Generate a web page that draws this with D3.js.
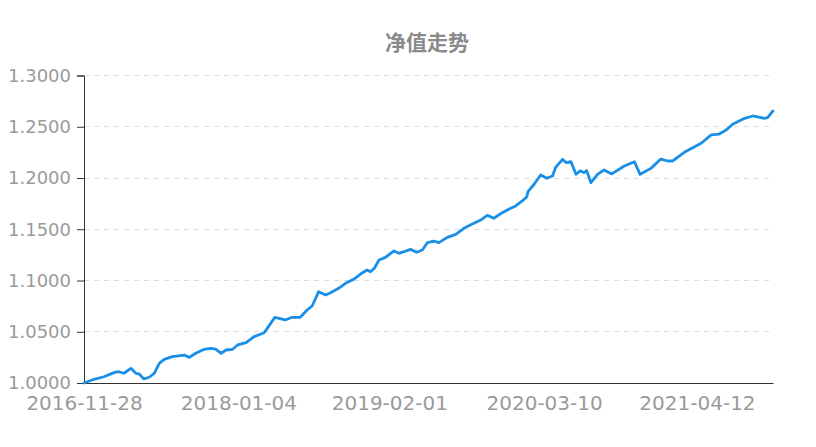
<!DOCTYPE html>
<html><head><meta charset="utf-8">
<script src="https://cdn.jsdelivr.net/npm/d3@7"></script>
<style>body{margin:0;background:#fff}</style>
</head><body>
<svg id="c" width="816" height="447"></svg>
<script>
const title = "净值走势";
const dates = ["2016-11-28","2016-12-24","2017-01-19","2017-02-14","2017-02-27","2017-03-12","2017-03-30","2017-04-12","2017-04-20","2017-05-03","2017-05-17","2017-05-30","2017-06-12","2017-06-25","2017-07-16","2017-08-16","2017-08-29","2017-09-15","2017-10-07","2017-10-24","2017-11-06","2017-11-20","2017-12-03","2017-12-20","2018-01-02","2018-01-24","2018-02-14","2018-03-12","2018-03-25","2018-04-09","2018-05-06","2018-05-24","2018-06-14","2018-07-02","2018-07-15","2018-08-01","2018-08-19","2018-09-01","2018-09-22","2018-10-10","2018-10-31","2018-11-18","2018-12-05","2018-12-14","2018-12-24","2019-01-05","2019-01-22","2019-02-13","2019-02-26","2019-03-11","2019-03-28","2019-04-13","2019-04-28","2019-05-11","2019-05-28","2019-06-10","2019-07-02","2019-07-24","2019-08-14","2019-09-05","2019-09-27","2019-10-14","2019-10-31","2019-11-22","2019-12-10","2019-12-27","2020-01-14","2020-01-25","2020-01-28","2020-02-13","2020-03-01","2020-03-17","2020-04-01","2020-04-09","2020-04-27","2020-05-07","2020-05-19","2020-06-01","2020-06-12","2020-06-22","2020-06-29","2020-07-10","2020-07-27","2020-08-13","2020-09-02","2020-10-05","2020-10-31","2020-11-15","2020-12-13","2021-01-08","2021-01-26","2021-02-08","2021-03-10","2021-04-23","2021-05-19","2021-06-09","2021-06-27","2021-07-14","2021-08-14","2021-09-04","2021-10-05","2021-10-13","2021-10-27"];
const values = [1.0000,1.0036,1.0061,1.0101,1.0110,1.0095,1.0143,1.0095,1.0090,1.0040,1.0056,1.0095,1.0192,1.0230,1.0257,1.0273,1.0250,1.0290,1.0329,1.0338,1.0330,1.0290,1.0322,1.0329,1.0371,1.0393,1.0452,1.0490,1.0560,1.0640,1.0615,1.0641,1.0641,1.0712,1.0751,1.0891,1.0859,1.0881,1.0924,1.0973,1.1012,1.1063,1.1102,1.1086,1.1119,1.1200,1.1226,1.1288,1.1265,1.1281,1.1304,1.1275,1.1298,1.1369,1.1385,1.1369,1.1421,1.1450,1.1509,1.1551,1.1590,1.1636,1.1607,1.1662,1.1698,1.1727,1.1779,1.1818,1.1866,1.1939,1.2029,1.1997,1.2020,1.2104,1.2182,1.2149,1.2159,1.2036,1.2071,1.2052,1.2071,1.1954,1.2036,1.2078,1.2040,1.2117,1.2159,1.2036,1.2094,1.2185,1.2166,1.2166,1.2251,1.2339,1.2420,1.2429,1.2468,1.2524,1.2582,1.2605,1.2582,1.2589,1.2654];
const xTickLabels = ["2016-11-28","2018-01-04","2019-02-01","2020-03-10","2021-04-12"];
const yTicks = [1.0,1.05,1.1,1.15,1.2,1.25,1.3];

const parse = d3.timeParse("%Y-%m-%d");
const data = dates.map((d,i)=>({date:parse(d), value:values[i]}));
const svg = d3.select("#c");
const m = {left:84, right:43, top:75.5, bottom:64};
const W = 816, H = 447;
const x = d3.scaleTime().domain(d3.extent(data, d=>d.date)).range([m.left, W-m.right]);
const y = d3.scaleLinear().domain([1.0,1.3]).range([H-m.bottom, m.top]);

svg.append("text").attr("x",427).attr("y",50).attr("text-anchor","middle")
  .attr("font-family","'Noto Sans CJK SC',sans-serif").attr("font-weight","bold")
  .attr("font-size",21).attr("fill","#8a8a8a").text(title);

// grid
svg.append("g").selectAll("line").data(yTicks.filter(t=>t>1.0)).join("line")
  .attr("x1",m.left).attr("x2",W-m.right).attr("y1",d=>y(d)).attr("y2",d=>y(d))
  .attr("stroke","#dcdcdc").attr("stroke-dasharray","5,5").attr("shape-rendering","crispEdges");

// y axis
const ya = svg.append("g").attr("transform",`translate(${m.left},0)`)
  .call(d3.axisLeft(y).tickValues(yTicks).tickFormat(d3.format(".4f")).tickSize(7).tickPadding(6));
ya.select(".domain").attr("stroke","#333");
ya.selectAll(".tick line").attr("stroke","#333");
ya.selectAll("text").attr("font-family","'DejaVu Sans',sans-serif").attr("font-size",18).attr("fill","#9a9a9a");

// x axis
const xa = svg.append("g").attr("transform",`translate(0,${H-m.bottom})`)
  .call(d3.axisBottom(x).tickValues(xTickLabels.map(parse)).tickFormat(d3.timeFormat("%Y-%m-%d")).tickSize(0).tickPadding(13));
xa.select(".domain").attr("stroke","#333");
xa.selectAll("text").attr("font-family","'DejaVu Sans',sans-serif").attr("font-size",20).attr("fill","#9a9a9a").attr("dy","0.71em");

// line
svg.append("path").datum(data)
  .attr("fill","none").attr("stroke","#1a8fe8").attr("stroke-width",2.8)
  .attr("stroke-linejoin","round").attr("stroke-linecap","round")
  .attr("d", d3.line().x(d=>x(d.date)).y(d=>y(d.value)));
</script>
</body></html>
